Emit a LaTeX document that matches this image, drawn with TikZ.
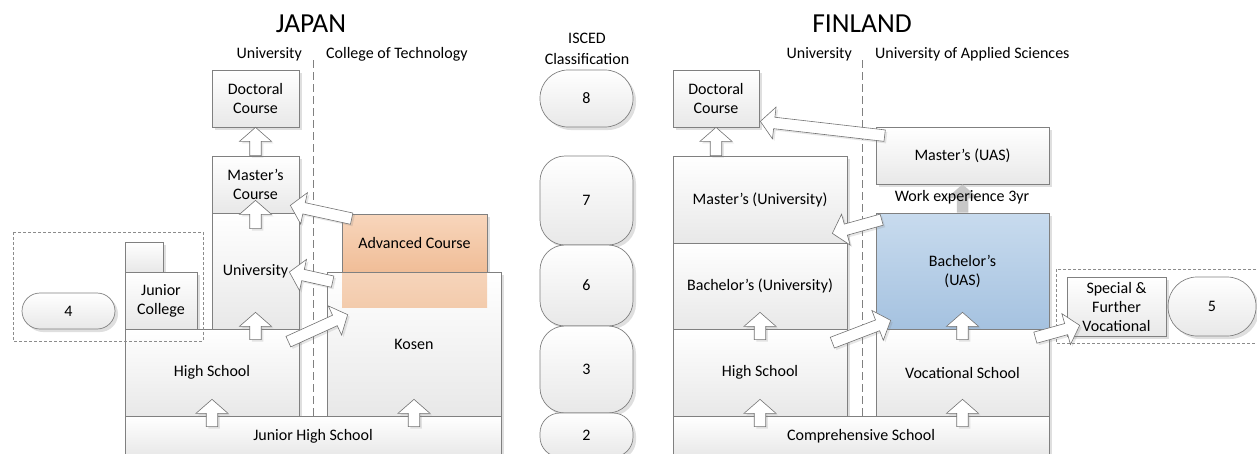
\documentclass[tikz,border=0pt]{standalone}
\usepackage{fontspec}
\setmainfont{Carlito}
\usetikzlibrary{calc}
\usetikzlibrary{math}
\usetikzlibrary{shadows}

\definecolor{advtop}{RGB}{248,214,188}
\definecolor{advbot}{RGB}{240,189,151}
\definecolor{lowtop}{RGB}{246,212,186}
\definecolor{lowbot}{RGB}{243,203,172}
\definecolor{uastop}{RGB}{200,219,238}
\definecolor{uasbot}{RGB}{165,194,224}

\tikzset{
  box/.style={draw=black!50, line width=0.7pt, top color=white, bottom color=black!9,
    inner sep=2pt, align=center,
    drop shadow={shadow xshift=3pt, shadow yshift=-3pt, opacity=0.25, fill=black!50}},
  iscedpill/.style={box, rounded corners=#1},
  advfill/.style={top color=advtop, bottom color=advbot},
  uasfill/.style={top color=uastop, bottom color=uasbot},
  group/.style={draw=black!45, line width=0.6pt, dash pattern=on 3pt off 2pt},
  divider/.style={draw=black!50, line width=0.6pt, dash pattern=on 8pt off 4pt},
  blk/.style={draw=black!55, fill=white, line width=0.6pt, line join=miter,
    drop shadow={shadow xshift=2pt, shadow yshift=-2pt, opacity=0.2, fill=black!50}},
  heading/.style={font=\fontsize{27.5}{30}\selectfont, anchor=base, inner sep=0pt},
}

% box by its corners: name, x1, y1, x2, y2, text
\newcommand\edubox[7][]{%
  \node[box, #1, minimum width={(#5-#3)*1pt}, minimum height={(#6-#4)*1pt}]
    (#2) at ({(#3+#5)/2},{(#4+#6)/2}) {#7};}

% hollow block arrow from tail to tip
\newcommand\barrow[3][blk]{%
  \coordinate (ba-t) at #2;
  \coordinate (ba-h) at #3;
  \coordinate (ba-c) at ($(ba-h)!\hdl pt!(ba-t)$);
  \path[#1] ($(ba-t)!\shw pt!90:(ba-h)$) -- ($(ba-c)!\shw pt!90:(ba-h)$)
    -- ($(ba-c)!\hdw pt!90:(ba-h)$) -- (ba-h)
    -- ($(ba-c)!\hdw pt!-90:(ba-h)$) -- ($(ba-c)!\shw pt!-90:(ba-h)$)
    -- ($(ba-t)!\shw pt!-90:(ba-h)$) -- cycle;}

\begin{document}
\begin{tikzpicture}[x=1pt, y=-1pt, font=\fontsize{16}{19}\selectfont]
  \tikzmath{
    \shw = 5.75; % half shaft
    \hdw = 16;   % half head
    \hdl = 14;   % head length
  }
  \useasboundingbox (0,0) rectangle (1257,453);
  \clip (0,0) rectangle (1257,453);

% headings
\node[heading] (jtitle) at (311,32) {JAPAN};
\node[heading] (ftitle) at (862,32) {FINLAND};
\node[anchor=base east, inner sep=0pt] (juniv) at (302,58) {University};
\node[anchor=base west, inner sep=0pt] (jcot)  at (326,58) {College of Technology};
\node[anchor=base east, inner sep=0pt] (funiv) at (852,58) {University};
\node[anchor=base west, inner sep=0pt] (fuas)  at (875,58) {University of Applied Sciences};
\node[align=center, font=\fontsize{16}{21}\selectfont] (isced) at (587,49) {ISCED\\Classification};

% Japan
\edubox{jdoc}{212}{70}{299}{127}{Doctoral\\Course}
\edubox{jmas}{212}{156}{299}{213}{Master’s\\Course}
\edubox[advfill]{jadv}{342}{214}{487}{272}{Advanced Course}
\edubox{juni}{212}{213}{299}{329}{University}
\edubox{jjcs}{125}{242}{163}{272}{}
\edubox{jjc}{125}{272}{197}{329}{Junior\\College}
\edubox{jkos}{327}{272}{501}{416}{Kosen}
\fill[top color=lowtop, bottom color=lowbot] (342,273) rectangle (487,307);
\edubox{jhs}{125}{329}{299}{416}{High School}
\edubox{jjhs}{125}{416}{501}{456}{Junior High School}

% ISCED levels
\foreach \t/\b/\r/\l in {70/127/28/8, 156/245/25/7, 245/326/25/6, 326/413/25/3, 413/457/20/2}
  \node[iscedpill=\r pt, minimum width=93pt, minimum height={(\b-\t)*1pt}]
    (lv\l) at (586.5,{(\t+\b)/2}) {\l};
\node[iscedpill=18pt, minimum width=93pt, minimum height=36pt] (lv4) at (68.5,311) {4};
\node[iscedpill=29pt, minimum width=88pt, minimum height=59pt] (lv5) at (1212,306.5) {5};

% Finland
\edubox{fdoc}{673}{70}{759}{127}{Doctoral\\Course}
\edubox{fma}{876}{127}{1049}{184}{Master’s (UAS)}
\edubox{fmu}{673}{156}{847}{243}{Master’s (University)}
\edubox[uasfill]{fba}{876}{213}{1049}{329}{Bachelor’s\\(UAS)}
\edubox{fbu}{673}{243}{847}{329}{Bachelor’s (University)}
\edubox{fhs}{673}{329}{847}{416}{High School}
\edubox{fvs}{876}{329}{1049}{416}{Vocational School}
\edubox{fcs}{673}{416}{1049}{456}{Comprehensive School}
\edubox{fsp}{1067}{277}{1166}{336}{Special \&\\Further\\Vocational}

\foreach \x in {313,862}
  \draw[divider] (\x,60) -- (\x,416);
\draw[group] (13,232) rectangle (203,341);
\draw[group] (1056,269) rectangle (1262,343);

\barrow[fill=black!22]{(fba.north)}{(fma.south)}
\node (wexp) at (962,197) {Work experience 3yr};

% up arrows
\foreach \a/\b in {jjhs/jhs, jjhs/jkos, jhs/juni, fcs/fhs, fcs/fvs, fhs/fbu, fvs/fba}
  {\barrow{($(\a.north -| \b.south)+(0,11)$)}{($(\b.south)+(0,-17)$)}}
\foreach \a/\b in {jmas/jdoc, fmu/fdoc}
  {\barrow{(\a.north -| \b.south)}{(\b.south)}}
\barrow{($(juni.north)+(0,16)$)}{($(jmas.south)+(0,-13)$)}

% crossing arrows
\barrow{($(jadv.north west)+(10,5)$)}{($(jmas.south east)+(-9,-8)$)}
\barrow{($(jkos.north west)+(6,10)$)}{($(juni.east)+(-10,1)$)}
\barrow{($(jhs.north east)+(-11,13)$)}{($(jkos.north west)+(21,43)$)}
\barrow{($(fma.north west)+(9,9)$)}{($(fdoc.south east)+(1,-6)$)}
\barrow{($(fba.north west)+(6,7)$)}{($(fmu.south east)+(-15,-10)$)}
\barrow{($(fhs.north east)+(-15,14)$)}{($(fba.south west)+(15,-9)$)}
\barrow{($(fvs.north east)+(-14,9)$)}{($(fsp.south west)+(13,-11)$)}

\end{tikzpicture}
\end{document}
